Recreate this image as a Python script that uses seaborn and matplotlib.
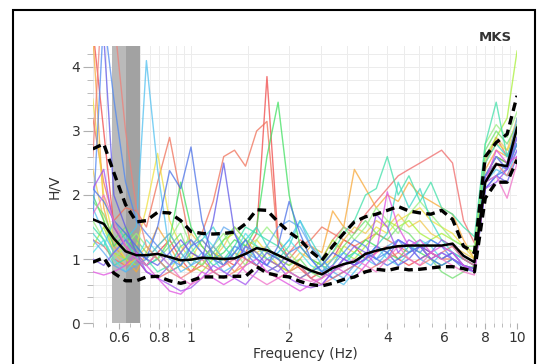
import numpy as np
import pandas as pd
import matplotlib
matplotlib.use('Agg')
import matplotlib.pyplot as plt
import seaborn as sns
from matplotlib.patches import Rectangle
from matplotlib.ticker import FixedLocator, NullFormatter

# Frequencias (Hz) onde as curvas H/V foram lidas
freq = [0.50, 0.54, 0.58, 0.63, 0.68, 0.73, 0.79, 0.86, 0.93, 1.00,
        1.08, 1.17, 1.26, 1.36, 1.47, 1.59, 1.71, 1.85, 2.00, 2.16,
        2.33, 2.52, 2.72, 2.94, 3.17, 3.43, 3.70, 4.00, 4.32, 4.66,
        5.04, 5.44, 5.87, 6.34, 6.85, 7.40, 7.99, 8.63, 9.32, 10.0]

# Curvas individuais (janelas)
hv_red = [4.6, 3.0, 1.5, 1.2, 1.0, 0.9, 1.1, 1.3, 1.0, 0.8, 1.0, 1.2, 1.0, 0.9, 1.1, 1.4, 3.85, 1.3, 1.0, 0.85,
          0.7, 0.8, 1.0, 1.3, 1.2, 1.0, 1.1, 1.2, 1.0, 0.9, 1.0, 1.1, 1.0, 1.1, 1.0, 0.9, 2.3, 2.6, 2.5, 2.9]
hv_salmon = [3.2, 2.2, 1.6, 1.8, 1.75, 1.5, 2.2, 2.9, 2.0, 1.2, 1.4, 1.9, 2.6, 2.7, 2.45, 3.0, 3.15, 1.2, 1.0, 1.2,
             1.3, 1.5, 1.4, 1.3, 1.2, 1.3, 1.4, 1.3, 1.2, 1.1, 1.2, 1.1, 1.0, 1.0, 0.9, 0.85, 2.3, 2.5, 2.4, 2.8]
hv_red2 = [1.3, 1.2, 1.0, 0.9, 1.0, 0.8, 0.7, 0.8, 0.9, 1.1, 1.0, 0.8, 0.9, 1.1, 1.0, 0.9, 0.8, 0.9, 1.1, 1.3,
           1.2, 1.0, 1.3, 1.5, 1.4, 1.7, 1.9, 2.1, 2.3, 2.4, 2.5, 2.6, 2.7, 2.5, 1.6, 1.25, 2.5, 2.9, 2.6, 3.0]
hv_orange = [4.5, 1.8, 1.2, 1.0, 0.8, 1.1, 1.5, 1.2, 0.9, 0.8, 0.9, 1.1, 1.0, 0.8, 0.9, 1.2, 1.0, 0.9, 0.8, 1.0,
             1.2, 1.1, 1.75, 1.5, 2.4, 2.1, 1.8, 2.0, 1.9, 2.2, 2.0, 1.9, 1.8, 1.7, 1.3, 1.0, 2.4, 2.7, 2.6, 3.1]
hv_yellow = [3.5, 2.0, 1.3, 1.0, 1.2, 1.8, 2.65, 1.6, 1.2, 1.0, 1.3, 1.1, 0.9, 1.0, 1.2, 1.3, 1.1, 0.9, 0.8, 0.7,
             0.8, 0.9, 1.0, 1.2, 1.1, 1.3, 1.5, 1.4, 1.6, 1.7, 1.8, 1.6, 1.5, 1.4, 1.2, 1.0, 2.5, 2.8, 2.7, 3.0]
hv_gold = [2.4, 1.6, 1.1, 0.9, 1.0, 1.2, 1.0, 0.8, 1.1, 1.4, 1.2, 1.0, 1.2, 1.5, 1.3, 1.1, 1.2, 1.0, 0.9, 1.1,
           1.0, 0.9, 1.1, 1.3, 1.5, 1.4, 1.6, 1.5, 1.7, 1.5, 1.6, 1.4, 1.3, 1.2, 1.1, 1.0, 2.5, 2.9, 2.7, 3.2]
hv_lime = [1.2, 1.5, 1.1, 1.0, 0.9, 1.0, 1.2, 1.4, 1.1, 0.9, 0.8, 1.0, 1.3, 1.4, 1.2, 1.1, 1.0, 0.9, 0.8, 0.9,
           0.8, 1.0, 1.3, 1.1, 1.0, 1.2, 1.4, 1.6, 1.5, 1.6, 1.4, 1.3, 1.4, 1.3, 1.2, 1.1, 2.6, 2.9, 3.2, 4.25]
hv_green = [2.0, 1.6, 1.2, 1.4, 1.1, 0.9, 1.0, 1.3, 2.2, 1.5, 1.2, 1.0, 1.1, 1.3, 1.2, 1.5, 2.6, 3.45, 2.0, 1.2,
            1.0, 0.9, 0.8, 1.0, 1.1, 1.3, 1.2, 1.1, 1.0, 1.2, 1.1, 1.0, 0.9, 1.0, 0.9, 0.85, 2.3, 2.6, 2.5, 2.8]
hv_green2 = [1.9, 1.7, 1.3, 1.5, 1.3, 1.1, 1.0, 1.2, 1.4, 1.0, 0.9, 1.1, 1.3, 1.5, 1.3, 1.2, 1.1, 1.0, 0.9, 1.0,
             0.8, 0.7, 0.9, 1.2, 1.4, 1.6, 1.4, 1.3, 1.5, 1.4, 1.2, 1.0, 0.8, 0.7, 0.8, 0.9, 2.7, 3.0, 2.8, 3.1]
hv_lightgreen = [1.6, 1.3, 1.0, 1.2, 1.4, 1.2, 1.0, 1.3, 1.6, 1.2, 0.9, 1.2, 1.4, 1.1, 0.9, 1.3, 1.5, 1.3, 1.1, 0.9,
                 0.8, 0.9, 1.2, 1.5, 1.3, 1.5, 1.8, 1.6, 1.4, 1.7, 1.9, 1.7, 1.5, 1.3, 1.2, 1.2, 2.8, 3.1, 2.9, 3.3]
hv_teal = [1.5, 1.3, 0.9, 1.0, 1.2, 1.0, 0.8, 0.9, 1.2, 1.3, 1.1, 0.9, 1.0, 1.2, 1.5, 1.4, 1.3, 1.2, 1.0, 0.9,
           0.8, 0.9, 1.1, 1.4, 1.6, 2.0, 2.1, 2.6, 2.0, 2.3, 1.9, 2.2, 1.8, 1.7, 1.5, 1.35, 2.8, 3.45, 2.6, 3.0]
hv_teal2 = [1.4, 1.2, 1.6, 1.3, 1.0, 0.9, 1.0, 0.8, 0.9, 1.1, 1.3, 1.5, 1.2, 1.0, 1.3, 1.5, 1.2, 1.0, 1.2, 1.6,
            1.3, 1.0, 0.8, 0.9, 1.1, 1.0, 1.2, 1.4, 2.2, 1.8, 2.1, 1.6, 1.3, 1.1, 1.0, 0.9, 2.5, 2.8, 2.6, 3.0]
hv_aqua = [1.1, 1.3, 1.0, 0.8, 1.0, 1.3, 1.1, 0.9, 1.0, 1.2, 1.4, 1.2, 1.0, 1.1, 1.4, 1.2, 1.0, 1.1, 1.3, 1.1,
           0.9, 0.8, 1.0, 1.1, 0.9, 1.0, 1.2, 1.0, 0.9, 1.1, 1.3, 1.2, 1.0, 1.1, 1.0, 0.9, 2.3, 2.6, 2.4, 2.8]
hv_cyan = [1.8, 1.4, 1.1, 1.3, 1.5, 4.1, 2.4, 1.1, 0.8, 0.9, 1.1, 1.0, 0.8, 0.9, 1.2, 1.0, 0.9, 1.1, 1.3, 1.6,
           1.2, 0.9, 0.7, 0.6, 0.8, 1.0, 0.9, 1.1, 1.3, 1.2, 1.0, 0.9, 1.1, 1.0, 0.9, 0.8, 2.2, 2.4, 2.3, 2.7]
hv_sky = [1.3, 1.1, 0.9, 0.8, 0.9, 1.0, 1.2, 1.4, 1.1, 0.9, 1.0, 1.2, 1.5, 1.4, 1.1, 1.0, 1.2, 1.5, 1.6, 1.5,
          1.2, 1.0, 0.8, 0.7, 0.9, 1.1, 1.0, 1.2, 1.3, 1.1, 1.2, 1.3, 1.2, 1.1, 0.9, 0.8, 2.1, 2.3, 2.5, 3.2]
hv_blue = [2.1, 1.9, 1.6, 1.4, 1.2, 1.0, 1.5, 2.38, 2.1, 2.75, 1.6, 1.0, 0.9, 1.1, 1.3, 1.0, 0.9, 1.2, 1.9, 1.4,
           1.0, 0.8, 0.7, 0.8, 0.9, 1.1, 1.0, 0.9, 1.0, 1.1, 1.2, 1.0, 0.9, 1.0, 0.85, 0.8, 2.2, 2.3, 2.4, 2.8]
hv_blue2 = [1.6, 4.8, 3.5, 2.2, 1.6, 1.4, 1.2, 1.0, 0.9, 1.2, 1.3, 1.1, 0.9, 1.2, 1.1, 0.9, 0.8, 0.9, 1.1, 1.2,
            1.0, 0.8, 0.9, 1.1, 1.3, 1.2, 1.0, 1.1, 1.3, 1.2, 1.1, 1.3, 1.2, 1.0, 0.9, 0.85, 2.3, 2.5, 2.4, 2.9]
hv_indigo = [4.6, 4.5, 2.0, 1.5, 1.1, 1.0, 0.9, 1.1, 1.3, 1.1, 1.0, 1.6, 2.5, 1.4, 1.0, 0.9, 1.1, 1.0, 0.8, 0.7,
             0.8, 0.9, 1.1, 1.0, 0.9, 1.0, 1.2, 1.1, 0.9, 1.0, 1.2, 1.1, 1.0, 1.1, 0.9, 0.8, 2.1, 2.3, 2.2, 2.6]
hv_violet = [1.0, 0.9, 1.1, 1.3, 1.1, 0.8, 0.7, 0.9, 1.1, 1.3, 1.1, 0.8, 0.7, 0.9, 1.2, 1.1, 0.9, 0.8, 1.0, 0.9,
             0.7, 0.6, 0.8, 1.0, 1.2, 1.1, 0.9, 1.0, 1.3, 1.2, 1.0, 1.1, 1.3, 1.2, 1.0, 0.9, 2.3, 2.6, 2.4, 2.9]
hv_pinkred = [2.6, 5.5, 4.8, 3.0, 1.8, 1.2, 1.0, 0.8, 0.7, 0.8, 0.9, 0.8, 0.7, 0.8, 1.0, 0.9, 0.8, 0.7, 0.8, 0.9,
              0.7, 0.6, 0.7, 0.8, 0.9, 0.8, 0.9, 1.0, 1.1, 1.0, 0.9, 1.0, 1.1, 1.2, 1.0, 0.9, 2.2, 2.5, 2.3, 2.6]
hv_purple = [2.1, 2.4, 1.5, 1.2, 1.0, 0.8, 0.7, 0.6, 0.5, 0.55, 0.7, 0.9, 0.8, 0.7, 0.6, 0.8, 1.0, 0.9, 0.7, 0.6,
             0.55, 0.6, 0.8, 1.0, 0.9, 1.0, 1.7, 1.5, 1.1, 1.3, 1.2, 1.0, 1.1, 1.0, 0.9, 0.85, 2.1, 2.2, 2.4, 2.7]
hv_magenta = [0.8, 0.75, 0.8, 0.9, 1.1, 0.9, 0.7, 0.5, 0.45, 0.6, 0.8, 0.7, 0.6, 0.7, 0.9, 1.0, 0.8, 0.7, 0.6, 0.5,
              0.6, 0.7, 0.9, 0.8, 0.7, 0.9, 1.1, 2.05, 1.5, 1.2, 1.3, 1.1, 1.2, 1.1, 0.9, 0.8, 2.2, 2.7, 2.5, 2.6]
hv_pink = [1.7, 2.0, 1.6, 1.2, 1.0, 0.9, 1.1, 0.9, 0.7, 0.6, 0.7, 0.8, 0.9, 1.0, 0.8, 0.7, 0.6, 0.7, 0.8, 0.7,
           0.65, 0.7, 0.8, 0.9, 1.0, 0.9, 0.8, 1.0, 1.2, 1.0, 0.9, 1.1, 1.0, 0.9, 0.8, 0.75, 2.2, 2.3, 1.95, 2.5]

# Media e media +/- desvio
hv_mean = [1.62, 1.55, 1.32, 1.12, 1.06, 1.06, 1.08, 1.03, 0.98, 0.99, 1.02, 1.01, 1.00, 1.01, 1.08, 1.17, 1.14, 1.06,
           0.98, 0.90, 0.82, 0.76, 0.86, 0.92, 0.96, 1.08, 1.13, 1.17, 1.20, 1.21, 1.21, 1.21, 1.21, 1.24, 1.05, 0.95,
           2.20, 2.48, 2.45, 3.05]
hv_upper = [2.72, 2.80, 2.35, 1.85, 1.58, 1.60, 1.73, 1.72, 1.60, 1.43, 1.40, 1.39, 1.40, 1.42, 1.55, 1.77, 1.76, 1.58,
            1.42, 1.30, 1.12, 0.98, 1.20, 1.40, 1.58, 1.66, 1.70, 1.76, 1.82, 1.75, 1.72, 1.70, 1.76, 1.62, 1.20, 1.10,
            2.60, 2.82, 2.95, 3.55]
hv_lower = [0.95, 1.02, 0.78, 0.66, 0.66, 0.72, 0.73, 0.66, 0.62, 0.66, 0.72, 0.72, 0.72, 0.73, 0.73, 0.88, 0.78, 0.74,
            0.72, 0.65, 0.60, 0.58, 0.62, 0.68, 0.72, 0.80, 0.84, 0.82, 0.86, 0.83, 0.84, 0.86, 0.88, 0.88, 0.85, 0.80,
            1.95, 2.20, 2.20, 2.55]

traces = {
    'red': hv_red, 'salmon': hv_salmon, 'red2': hv_red2, 'orange': hv_orange, 'yellow': hv_yellow,
    'gold': hv_gold, 'lime': hv_lime, 'green': hv_green, 'green2': hv_green2, 'lightgreen': hv_lightgreen,
    'teal': hv_teal, 'teal2': hv_teal2, 'aqua': hv_aqua, 'cyan': hv_cyan, 'sky': hv_sky,
    'blue': hv_blue, 'blue2': hv_blue2, 'indigo': hv_indigo, 'violet': hv_violet,
    'pinkred': hv_pinkred, 'purple': hv_purple, 'magenta': hv_magenta, 'pink': hv_pink,
}
colors = {
    'red': '#f04848', 'salmon': '#f07058', 'red2': '#f06868', 'orange': '#f8a838', 'yellow': '#f0e040',
    'gold': '#f0c850', 'lime': '#a8f038', 'green': '#40e060', 'green2': '#70e070', 'lightgreen': '#98f080',
    'teal': '#40e0a8', 'teal2': '#40d8c8', 'aqua': '#50e0e8', 'cyan': '#50c0f0', 'sky': '#60a8f0',
    'blue': '#4a70e8', 'blue2': '#5088f0', 'indigo': '#6058e8', 'violet': '#8060f0',
    'pinkred': '#f08078', 'purple': '#a050f0', 'magenta': '#e050e0', 'pink': '#f070c8',
}

df = pd.concat([pd.DataFrame({'freq': freq, 'hv': v, 'trace': k}) for k, v in traces.items()])

plt.rcParams['font.family'] = ['DejaVu Sans']
fig = plt.figure(figsize=(5.46, 3.64), dpi=100)
ax = fig.add_axes([0.170, 0.1126, 0.777, 0.7614])

# faixa cinza (frequencia fora do intervalo valido)
ax.axvspan(0.571, 0.634, color='#bababa', lw=0, zorder=1)
ax.axvspan(0.634, 0.697, color='#a2a2a2', lw=0, zorder=1)

sns.lineplot(data=df, x='freq', y='hv', hue='trace', palette=colors, estimator=None,
             legend=False, lw=1.0, alpha=0.75, ax=ax, zorder=2)
sns.lineplot(x=freq, y=hv_mean, color='black', lw=1.8, ax=ax, zorder=4)
sns.lineplot(x=freq, y=hv_upper, color='black', lw=2.4, ax=ax, zorder=4)
sns.lineplot(x=freq, y=hv_lower, color='black', lw=2.4, ax=ax, zorder=4)
for ln in ax.lines[-2:]:
    ln.set_dashes([2.6, 1.6])

ax.set_xscale('log')
ax.set_xlim(0.5, 10)
ax.set_ylim(0, 4.33)

major_x = [0.6, 0.8, 1, 2, 4, 6, 8, 10]
minor_x = [0.5, 0.55, 0.65, 0.7, 0.75, 0.85, 0.9, 0.95, 1.5, 2.5, 3, 3.5, 4.5, 5, 5.5,
           6.5, 7, 7.5, 8.5, 9, 9.5]
ax.xaxis.set_major_locator(FixedLocator(major_x))
ax.xaxis.set_minor_locator(FixedLocator(minor_x))
ax.set_xticklabels(['0.6', '0.8', '1', '2', '4', '6', '8', '10'])
ax.xaxis.set_minor_formatter(NullFormatter())
ax.set_yticks([0, 1, 2, 3, 4])
ax.yaxis.set_minor_locator(FixedLocator(np.arange(0, 4.4, 0.2)))

ax.grid(True, which='both', color='#ececec', lw=0.7, zorder=0)
ax.set_axisbelow(True)
for s in ax.spines.values():
    s.set_visible(False)
ax.tick_params(axis='both', which='both', colors='#b0b0b0', labelcolor='#333333', labelsize=10)
ax.tick_params(axis='x', which='major', length=4, pad=2)
ax.tick_params(axis='x', which='minor', length=3)
ax.tick_params(axis='y', which='major', length=7, pad=2)
ax.tick_params(axis='y', which='minor', length=4)

ax.set_xlabel('Frequency (Hz)', fontsize=10, color='#333333', labelpad=1)
ax.set_ylabel('H/V', fontsize=10, color='#333333')
ax.yaxis.set_label_coords(-0.075, 0.49)
ax.text(0.948, 1.03, 'MKS', transform=ax.transAxes, ha='center', va='center',
        fontsize=9.5, color='#333333', fontweight='bold')

fig.patches.append(Rectangle((0.024, -0.02), 0.956, 0.9925, transform=fig.transFigure,
                             fill=False, ec='black', lw=1.5))

fig.savefig('out.png', dpi=100)
